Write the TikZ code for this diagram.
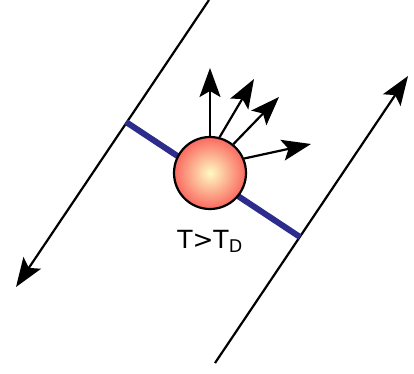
\documentclass[tikz,border=0pt]{standalone}
\usepackage{fontspec}
\setsansfont{DejaVu Sans}
\usetikzlibrary{arrows.meta, positioning}
\definecolor{barblue}{RGB}{44,44,140}
\definecolor{ballred}{RGB}{250,105,95}
\definecolor{ballcore}{RGB}{255,250,195}

\begin{document}
\begin{tikzpicture}[
    x=1pt, y=-1pt,
    ball/.style={circle, draw, line width=2.2pt, minimum size=72pt, inner sep=0pt, inner color=ballcore, outer color=ballred},
    arrow/.style={-{Stealth[length=29pt, width=21pt, inset=6pt]}, line width=2.2pt},
    bar/.style={line width=6pt, draw=barblue},
    label/.style={font=\sffamily\fontsize{25}{28}\selectfont, inner sep=0pt, anchor=base}
]
\useasboundingbox (0,0) rectangle (414,373);

% stream lines
\coordinate (topleft) at (209,0);
\coordinate (tipleft) at (16,287);
\coordinate (botright) at (215,363);
\coordinate (tipright) at (408,76);
\coordinate (barleft) at (126,122);
\coordinate (barright) at (300,237);

\draw[arrow] (topleft) -- (tipleft);
\draw[arrow] (botright) -- (tipright);
\draw[bar] (barleft) -- (barright);

% hot particle
\node[ball] (ball) at (210,173) {};
\node[label] (temp) at (210,248) {T>T\textsubscript{D}};

% emission
\coordinate (out1) at (210,68);
\coordinate (out2) at (254,79);
\coordinate (out3) at (279,97);
\coordinate (out4) at (311,144);
\draw[arrow] (ball.90) -- (out1);
\draw[arrow] (ball.75) -- (out2);
\draw[arrow] (ball.51) -- (out3);
\draw[arrow] (ball.23) -- (out4);
\end{tikzpicture}
\end{document}
